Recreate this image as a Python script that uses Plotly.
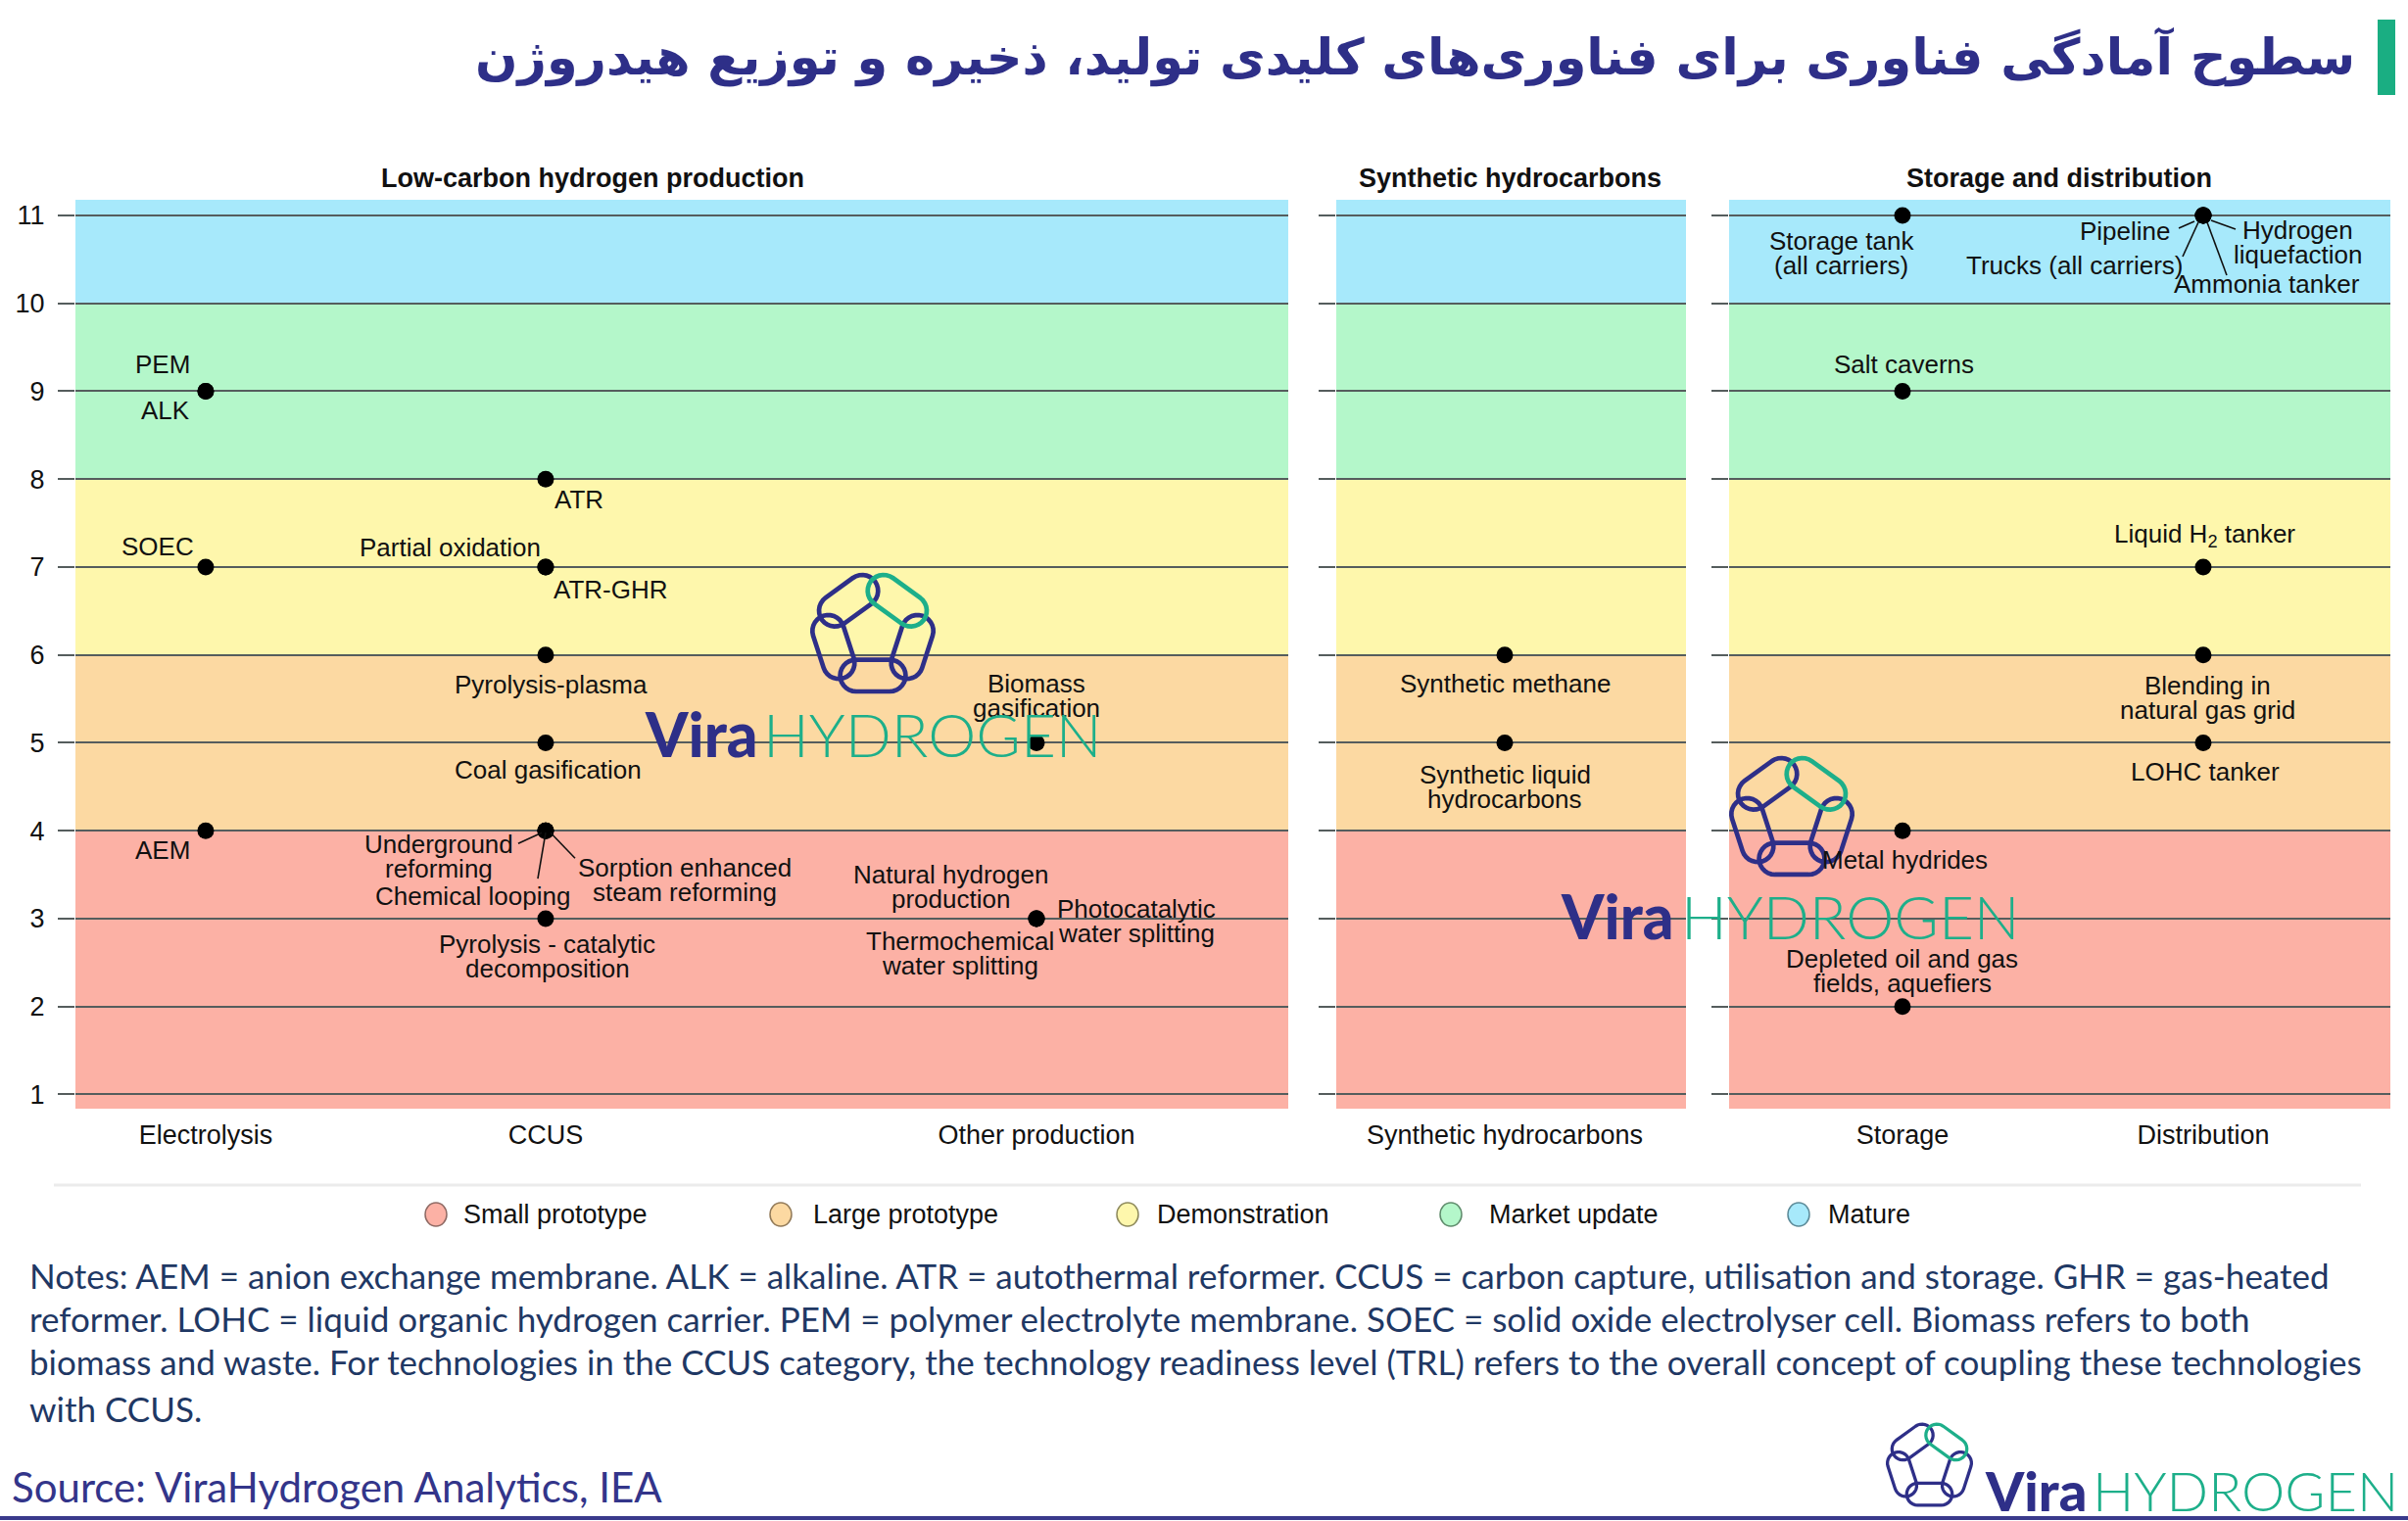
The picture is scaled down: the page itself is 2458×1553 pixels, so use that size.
import math
import plotly.graph_objects as go

W, H = 2458, 1553

# ---------------- data ----------------
band_names = ["Small prototype", "Large prototype", "Demonstration", "Market update", "Mature"]
band_from = [1, 4, 6, 8, 10]
band_to = [4, 6, 8, 10, 11]

trl_ticks = [1, 2, 3, 4, 5, 6, 7, 8, 9, 10, 11]

panel_titles = ["Low-carbon hydrogen production", "Synthetic hydrocarbons", "Storage and distribution"]

cat_names = ["Electrolysis", "CCUS", "Other production", "Synthetic hydrocarbons", "Storage", "Distribution"]
cat_panel = [1, 1, 1, 2, 3, 3]

tech_names = [
    "PEM", "ALK", "SOEC", "AEM",
    "ATR", "Partial oxidation", "ATR-GHR", "Pyrolysis-plasma", "Coal gasification",
    "Underground reforming", "Chemical looping", "Sorption enhanced steam reforming",
    "Pyrolysis - catalytic decomposition",
    "Biomass gasification", "Natural hydrogen production", "Photocatalytic water splitting",
    "Thermochemical water splitting",
    "Synthetic methane", "Synthetic liquid hydrocarbons",
    "Storage tank (all carriers)", "Salt caverns", "Metal hydrides",
    "Depleted oil and gas fields, aquefiers",
    "Pipeline", "Trucks (all carriers)", "Hydrogen liquefaction", "Ammonia tanker",
    "Liquid H2 tanker", "Blending in natural gas grid", "LOHC tanker",
]
tech_category = [
    "Electrolysis", "Electrolysis", "Electrolysis", "Electrolysis",
    "CCUS", "CCUS", "CCUS", "CCUS", "CCUS", "CCUS", "CCUS", "CCUS", "CCUS",
    "Other production", "Other production", "Other production", "Other production",
    "Synthetic hydrocarbons", "Synthetic hydrocarbons",
    "Storage", "Storage", "Storage", "Storage",
    "Distribution", "Distribution", "Distribution", "Distribution",
    "Distribution", "Distribution", "Distribution",
]
tech_trl = [9, 9, 7, 4,
            8, 7, 7, 6, 5, 4, 4, 4, 3,
            5, 3, 3, 3,
            6, 5,
            11, 9, 4, 2,
            11, 11, 11, 11, 7, 6, 5]

notes_lines = [
    "Notes: AEM = anion exchange membrane. ALK = alkaline. ATR = autothermal reformer. CCUS = carbon capture, utilisation and storage. GHR = gas-heated",
    "reformer. LOHC = liquid organic hydrogen carrier. PEM = polymer electrolyte membrane. SOEC = solid oxide electrolyser cell. Biomass refers to both",
    "biomass and waste. For technologies in the CCUS category, the technology readiness level (TRL) refers to the overall concept of coupling these technologies",
    "with CCUS.",
]
source_text = "Source: ViraHydrogen Analytics, IEA"
title_text = "سطوح آمادگی فناوری برای فناوری\u200cهای کلیدی تولید، ذخیره و توزیع هیدروژن"

# ---------------- style / layout ----------------
band_colors = ["#FCB1A5", "#FCD9A2", "#FEF7AC", "#B4F7CA", "#A7E9FB"]
band_edge = ["#8f6a64", "#927a58", "#8e8a5c", "#5f8c6c", "#5c8a98"]
GRID = "#555d5d"
INDIGO = "#2E2F88"
TEAL = "#1DAF8A"
FONT = "Liberation Sans"

Y_RANGE = [0.838, 11.178]

panel_x = [(77, 1315), (1364, 1721), (1765, 2440)]
panel_top, panel_bot = 204, 1132
cat_pos = [0.1074, 0.3877, 0.7924, 0.4818, 0.2622, 0.7170]

label_lines = {
    "Underground reforming": ["Underground", "reforming"],
    "Sorption enhanced steam reforming": ["Sorption enhanced", "steam reforming"],
    "Pyrolysis - catalytic decomposition": ["Pyrolysis - catalytic", "decomposition"],
    "Biomass gasification": ["Biomass", "gasification"],
    "Natural hydrogen production": ["Natural hydrogen", "production"],
    "Photocatalytic water splitting": ["Photocatalytic", "water splitting"],
    "Thermochemical water splitting": ["Thermochemical", "water splitting"],
    "Synthetic liquid hydrocarbons": ["Synthetic liquid", "hydrocarbons"],
    "Storage tank (all carriers)": ["Storage tank", "(all carriers)"],
    "Depleted oil and gas fields, aquefiers": ["Depleted oil and gas", "fields, aquefiers"],
    "Hydrogen liquefaction": ["Hydrogen", "liquefaction"],
    "Liquid H2 tanker": ["Liquid H<sub>2</sub> tanker"],
    "Blending in natural gas grid": ["Blending in", "natural gas grid"],
}
LINE_PITCH = 25
# pixel offsets of label centre from its dot (dx right, dy up)
label_off = {
    "PEM": (-44, 27), "ALK": (-41, -20), "SOEC": (-49, 21), "AEM": (-44, -20),
    "ATR": (34, -21), "Partial oxidation": (-97, 20), "ATR-GHR": (67, -23),
    "Pyrolysis-plasma": (6, -30), "Coal gasification": (3, -28),
    "Underground reforming": (-109, -26), "Chemical looping": (-74, -67),
    "Sorption enhanced steam reforming": (142, -50),
    "Pyrolysis - catalytic decomposition": (2, -39),
    "Biomass gasification": (0, 48), "Natural hydrogen production": (-87, 32),
    "Photocatalytic water splitting": (102, -3), "Thermochemical water splitting": (-78, -36),
    "Synthetic methane": (0, -29), "Synthetic liquid hydrocarbons": (0, -45),
    "Storage tank (all carriers)": (-62, -39), "Salt caverns": (2, 27),
    "Metal hydrides": (3, -30), "Depleted oil and gas fields, aquefiers": (0, 36),
    "Pipeline": (-79, -16), "Trucks (all carriers)": (-131, -51),
    "Hydrogen liquefaction": (97, -28), "Ammonia tanker": (65, -70),
    "Liquid H2 tanker": (2, 32), "Blending in natural gas grid": (5, -44),
    "LOHC tanker": (2, -30),
}
leaders = {
    "Underground reforming": (-28, -13, -4, -2),
    "Chemical looping": (-8, -49, 0, -2),
    "Sorption enhanced steam reforming": (30, -28, 5, -2),
    "Pipeline": (-25, -13, -9, -6),
    "Trucks (all carriers)": (-21, -42, -5, -7),
    "Hydrogen liquefaction": (33, -14, 8, -5),
    "Ammonia tanker": (24, -61, 4, -7),
}


def px(x):
    return x / W


def py(y):
    return 1 - y / H


fig = go.Figure()
axn = ["", "2", "3"]

for p in range(3):
    xs, ys = [], []
    for n, c, t in zip(tech_names, tech_category, tech_trl):
        ci = cat_names.index(c)
        if cat_panel[ci] == p + 1:
            xs.append(cat_pos[ci])
            ys.append(t)
    fig.add_trace(go.Scatter(x=xs, y=ys, mode="markers", xaxis="x" + axn[p], yaxis="y" + axn[p],
                             marker=dict(color="black", size=17), showlegend=False, hoverinfo="skip"))

shapes = []
annotations = []

for p in range(3):
    for i in range(len(band_names)):
        y0 = band_from[i] if i > 0 else Y_RANGE[0]
        y1 = band_to[i] if i < len(band_names) - 1 else Y_RANGE[1]
        shapes.append(dict(type="rect", xref="x" + axn[p], yref="y" + axn[p], x0=0, x1=1, y0=y0, y1=y1,
                           fillcolor=band_colors[i], line=dict(width=0), layer="below"))

for n, c, t in zip(tech_names, tech_category, tech_trl):
    ci = cat_names.index(c)
    p = cat_panel[ci] - 1
    dx, dy = label_off[n]
    lines = label_lines.get(n, [n])
    k = len(lines)
    for j, ln in enumerate(lines):
        yy = dy + (k - 1) / 2 * LINE_PITCH - j * LINE_PITCH
        annotations.append(dict(x=cat_pos[ci], y=t, xref="x" + axn[p], yref="y" + axn[p],
                                text=ln, showarrow=False, xshift=dx, yshift=yy,
                                xanchor="center", yanchor="middle", align="center",
                                font=dict(family=FONT, size=26, color="#111")))
    if n in leaders:
        a, b, cc, d = leaders[n]
        shapes.append(dict(type="line", xref="x" + axn[p], yref="y" + axn[p],
                           xsizemode="pixel", ysizemode="pixel", xanchor=cat_pos[ci], yanchor=t,
                           x0=a, y0=b, x1=cc, y1=d, line=dict(color="#111", width=1.6)))

title_cx = [605, 1541, 2102]
for p in range(3):
    annotations.append(dict(x=px(title_cx[p]), y=py(182), xref="paper", yref="paper",
                            text="<b>%s</b>" % panel_titles[p], showarrow=False,
                            xanchor="center", yanchor="middle",
                            font=dict(family=FONT, size=27, color="#111")))

annotations.append(dict(x=px(2406), y=py(58), xref="paper", yref="paper", text="<b>%s</b>" % title_text,
                        showarrow=False, xanchor="right", yanchor="middle",
                        font=dict(family="DejaVu Sans", size=51, color=INDIGO)))
shapes.append(dict(type="rect", xref="paper", yref="paper", x0=px(2427), x1=px(2445), y0=py(97), y1=py(20),
                   fillcolor="#1AAE82", line=dict(width=0)))

shapes.append(dict(type="line", xref="paper", yref="paper", x0=px(55), x1=px(2410), y0=py(1210), y1=py(1210),
                   line=dict(color="#ebebeb", width=3)))

leg_cx = [445, 797, 1151, 1481, 1836]
leg_tx = [471, 828, 1179, 1518, 1864]
for i, nme in enumerate(band_names):
    shapes.append(dict(type="circle", xref="paper", yref="paper", x0=px(leg_cx[i] - 11), x1=px(leg_cx[i] + 11),
                       y0=py(1252), y1=py(1228), fillcolor=band_colors[i], line=dict(color=band_edge[i], width=1.5)))
    annotations.append(dict(x=px(leg_tx[i]), y=py(1240), xref="paper", yref="paper", text=nme, showarrow=False,
                            xanchor="left", yanchor="middle", font=dict(family=FONT, size=27, color="#111")))

note_y = [1302, 1346, 1390, 1438]
for ln, yy in zip(notes_lines, note_y):
    annotations.append(dict(x=px(28), y=py(yy), xref="paper", yref="paper", text=ln, showarrow=False,
                            xanchor="left", yanchor="middle", font=dict(family="Lato", size=35, color="#1F3864")))
annotations.append(dict(x=px(10), y=py(1518), xref="paper", yref="paper", text=source_text, showarrow=False,
                        xanchor="left", yanchor="middle", font=dict(family="Lato", size=42, color="#33358A")))
shapes.append(dict(type="line", xref="paper", yref="paper", x0=0, x1=1, y0=py(1550), y1=py(1550),
                   line=dict(color="#3A3A8C", width=4)))


def stadium(cx, cy, ux, uy, hl, hw, n=14):
    vx, vy = -uy, ux
    b = hl - hw
    pts = []
    for k in range(n + 1):
        t = -math.pi / 2 + math.pi * k / n
        pts.append((cx + b * ux + hw * (math.cos(t) * ux + math.sin(t) * vx),
                    cy + b * uy + hw * (math.cos(t) * uy + math.sin(t) * vy)))
    for k in range(n + 1):
        t = math.pi / 2 + math.pi * k / n
        pts.append((cx - b * ux + hw * (math.cos(t) * ux + math.sin(t) * vx),
                    cy - b * uy + hw * (math.cos(t) * uy + math.sin(t) * vy)))
    return pts


def add_icon(box):
    x0, y0, x1, y1 = box
    verts = [(math.cos(math.radians(-90 + 72 * k)), math.sin(math.radians(-90 + 72 * k))) for k in range(5)]
    links = []
    for k in range(5):
        a, b = verts[k], verts[(k + 1) % 5]
        cx, cy = (a[0] + b[0]) / 2, (a[1] + b[1]) / 2
        L = math.hypot(b[0] - a[0], b[1] - a[1])
        ux, uy = (b[0] - a[0]) / L, (b[1] - a[1]) / L
        links.append(stadium(cx, cy, ux, uy, 0.64, 0.31))
    sw = 0.09
    allp = [q for l in links for q in l]
    bx0 = min(q[0] for q in allp) - sw / 2
    bx1 = max(q[0] for q in allp) + sw / 2
    by0 = min(q[1] for q in allp) - sw / 2
    by1 = max(q[1] for q in allp) + sw / 2
    s = (x1 - x0) / (bx1 - bx0)
    ccx, ccy = (bx0 + bx1) / 2, (by0 + by1) / 2
    tcx, tcy = (x0 + x1) / 2, (y0 + y1) / 2
    for k in [1, 2, 3, 4, 0]:
        l = links[k]
        path = "M " + " L ".join("%.5f,%.5f" % (px(tcx + (q[0] - ccx) * s), py(tcy + (q[1] - ccy) * s)) for q in l) + " Z"
        shapes.append(dict(type="path", xref="paper", yref="paper", path=path,
                           line=dict(color=TEAL if k == 0 else INDIGO, width=sw * s),
                           fillcolor="rgba(0,0,0,0)"))


def add_logo(box, vira_x, hyd_x, ty, size):
    add_icon(box)
    annotations.append(dict(x=px(vira_x), y=py(ty), xref="paper", yref="paper", text="Vira", showarrow=False,
                            xanchor="left", yanchor="middle",
                            font=dict(family="Lato", size=size, color=INDIGO, weight=900)))
    annotations.append(dict(x=px(hyd_x), y=py(ty), xref="paper", yref="paper", text="HYDROGEN", showarrow=False,
                            xanchor="left", yanchor="middle",
                            font=dict(family="Lato", size=size, color=TEAL, weight=300)))


add_logo((827, 585, 955, 708), 656, 777, 749, 62)
add_logo((1765, 771, 1893, 896), 1591, 1714, 935, 62)
add_logo((1925, 1450, 2014, 1541), 2024, 2134, 1521, 56)

layout = dict(width=W, height=H, margin=dict(l=0, r=0, t=0, b=0), paper_bgcolor="white", plot_bgcolor="white",
              showlegend=False, shapes=shapes, annotations=annotations)
for p in range(3):
    l, r = panel_x[p]
    ticks_here = [i for i in range(len(cat_names)) if cat_panel[i] == p + 1]
    layout["xaxis" + axn[p]] = dict(domain=[px(l), px(r)], range=[0, 1], anchor="y" + axn[p],
                                    showgrid=False, zeroline=False, showline=False, ticks="",
                                    tickvals=[cat_pos[i] for i in ticks_here],
                                    ticktext=[cat_names[i] for i in ticks_here],
                                    tickfont=dict(family=FONT, size=27, color="#111"), ticklabelstandoff=8)
    layout["yaxis" + axn[p]] = dict(domain=[py(panel_bot), py(panel_top)], range=Y_RANGE, anchor="x" + axn[p],
                                    tickvals=trl_ticks, showgrid=True, gridcolor=GRID, gridwidth=2,
                                    zeroline=False, showline=False, ticks="outside", ticklen=17, tickwidth=2,
                                    tickcolor=GRID, showticklabels=(p == 0), ticklabelstandoff=8,
                                    tickfont=dict(family=FONT, size=27, color="#111"))
fig.update_layout(**layout)
fig.write_html("out.html", config={"displayModeBar": False},
               post_script="document.body.style.margin='0px';document.body.style.padding='0px';")
